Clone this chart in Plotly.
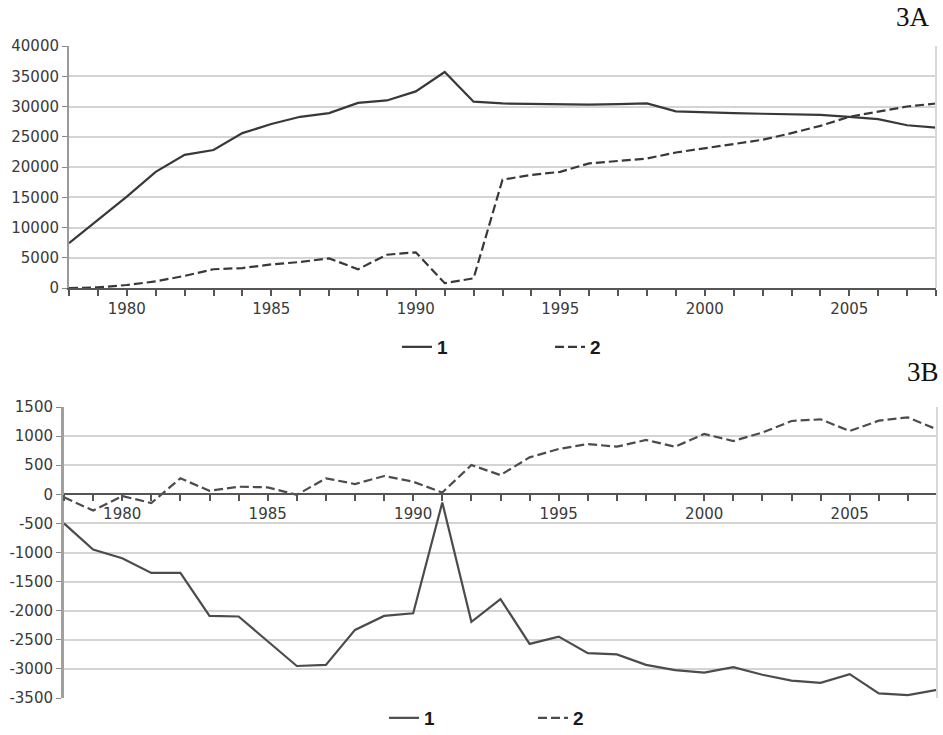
import plotly.graph_objects as go

# ---------------- data ----------------
years = list(range(1978, 2009))

# Panel 3A
a_series1 = [7400, 11200, 15100, 19200, 22000, 22800, 25600, 27100, 28300, 28900,
             30600, 31000, 32500, 35700, 30800, 30500, 30400, 30300, 30300, 30400,
             30500, 29200, 29000, 28900, 28800, 28700, 28600, 28300, 27900, 26900,
             26500]
a_series2 = [0, 100, 500, 1100, 2000, 3100, 3300, 3900, 4300, 4900,
             3100, 5500, 5900, 800, 1600, 17900, 18700, 19200, 20600, 21000,
             21400, 22400, 23100, 23800, 24500, 25600, 26800, 28300, 29200, 30000,
             30500]

# Panel 3B
b_series1 = [-500, -950, -1100, -1350, -1350, -2090, -2100, -2530, -2950, -2930,
             -2330, -2090, -2045, -140, -2190, -1800, -2570, -2445, -2730, -2750,
             -2930, -3020, -3065, -2970, -3100, -3200, -3240, -3090, -3420, -3450,
             -3360]
b_series2 = [-50, -280, -30, -150, 275, 60, 130, 120, -10, 275,
             177, 314, 216, 30, 503, 330, 635, 778, 864, 818,
             933, 818, 1036, 916, 1060, 1260, 1288, 1088, 1265, 1322,
             1115]

series_names = ["1", "2"]
x_tick_text = [str(y) if y % 5 == 0 else "" for y in years]
a_y_ticks = list(range(0, 40001, 5000))
b_y_ticks = list(range(-3500, 1501, 500))

# ---------------- layout helpers ----------------
W, H = 943, 735
def px_x(p):
    return p / W
def px_y(p):
    return 1 - p / H

a_xdom = [px_x(69), px_x(936)]
a_ydom = [px_y(288), px_y(46)]
b_xdom = [px_x(64), px_x(937)]
b_ydom = [px_y(698), px_y(407)]
b_range = [-3500, 1500]
zero_pos = b_ydom[0] + (0 - b_range[0]) / (b_range[1] - b_range[0]) * (b_ydom[1] - b_ydom[0])

line_dark = "#383838"
line_b = "#4c4c4c"
grid_col = "#d4d4d4"
tick_font = dict(family="DejaVu Sans", size=15, color="#3a3a3a")
legend_font = dict(family="Liberation Sans", size=19, color="#1a1a1a", weight="bold")

fig = go.Figure()

fig.add_trace(go.Scatter(x=years, y=a_series1, mode="lines", name=series_names[0],
                         line=dict(color=line_dark, width=2.2), xaxis="x", yaxis="y",
                         legend="legend"))
fig.add_trace(go.Scatter(x=years, y=a_series2, mode="lines", name=series_names[1],
                         line=dict(color=line_dark, width=2.2, dash="9px,4px"),
                         xaxis="x", yaxis="y", legend="legend"))
fig.add_trace(go.Scatter(x=years, y=b_series1, mode="lines", name=series_names[0],
                         line=dict(color=line_b, width=2.2), xaxis="x2", yaxis="y2",
                         legend="legend2"))
fig.add_trace(go.Scatter(x=years, y=b_series2, mode="lines", name=series_names[1],
                         line=dict(color=line_b, width=2.2, dash="9px,4px"),
                         xaxis="x2", yaxis="y2", legend="legend2"))

common_x = dict(range=[years[0], years[-1]], tickmode="array", tickvals=years,
                ticktext=x_tick_text, ticks="outside", ticklen=6, tickwidth=1.5,
                tickcolor="#555555", showline=True, linecolor="#555555", linewidth=2,
                showgrid=False, zeroline=False, tickfont=tick_font, automargin=False)

fig.update_layout(
    width=W, height=H,
    margin=dict(l=0, r=0, t=0, b=0, autoexpand=False),
    paper_bgcolor="white", plot_bgcolor="white",
    xaxis=dict(domain=a_xdom, anchor="y", **common_x),
    yaxis=dict(domain=a_ydom, anchor="x", range=[0, 40000], tickmode="array",
               tickvals=a_y_ticks, ticktext=[str(v) for v in a_y_ticks],
               ticks="outside", ticklen=5, tickcolor="#888888",
               showline=True, linecolor="#9a9a9a", linewidth=2,
               showgrid=True, gridcolor=grid_col, gridwidth=1.5, zeroline=False,
               tickfont=tick_font, automargin=False),
    xaxis2=dict(domain=b_xdom, anchor="free", position=zero_pos, **common_x),
    yaxis2=dict(domain=b_ydom, anchor="x2", range=b_range, tickmode="array",
                tickvals=b_y_ticks, ticktext=[str(v) for v in b_y_ticks],
                ticks="outside", ticklen=5, tickcolor="#888888",
                showline=True, linecolor="#a0a0a0", linewidth=3,
                showgrid=True, gridcolor=grid_col, gridwidth=1.5, zeroline=False,
                tickfont=tick_font, automargin=False),
    legend=dict(orientation="h", x=px_x(397), xanchor="left", y=px_y(347), yanchor="middle",
                font=legend_font, entrywidth=108, bgcolor="rgba(0,0,0,0)"),
    legend2=dict(orientation="h", x=px_x(384), xanchor="left", y=px_y(718), yanchor="middle",
                 font=legend_font, entrywidth=104, bgcolor="rgba(0,0,0,0)"),
    showlegend=True,
    annotations=[
        dict(text="3A", xref="paper", yref="paper", x=px_x(932), y=px_y(34),
             xanchor="right", yanchor="bottom", showarrow=False,
             font=dict(family="Liberation Serif", size=27, color="#111111")),
        dict(text="3B", xref="paper", yref="paper", x=px_x(941), y=px_y(389),
             xanchor="right", yanchor="bottom", showarrow=False,
             font=dict(family="Liberation Serif", size=27, color="#111111")),
    ],
    shapes=[
        dict(type="line", xref="x domain", yref="y domain", x0=1, x1=1, y0=0, y1=1,
             line=dict(color="#d8d8d8", width=2)),
        dict(type="line", xref="x2 domain", yref="y2 domain", x0=1, x1=1, y0=0, y1=1,
             line=dict(color="#d8d8d8", width=2)),
    ],
)

fig.write_html("out.html", config={"displayModeBar": False},
               post_script="document.body.style.margin='0';document.body.style.overflow='hidden';")
